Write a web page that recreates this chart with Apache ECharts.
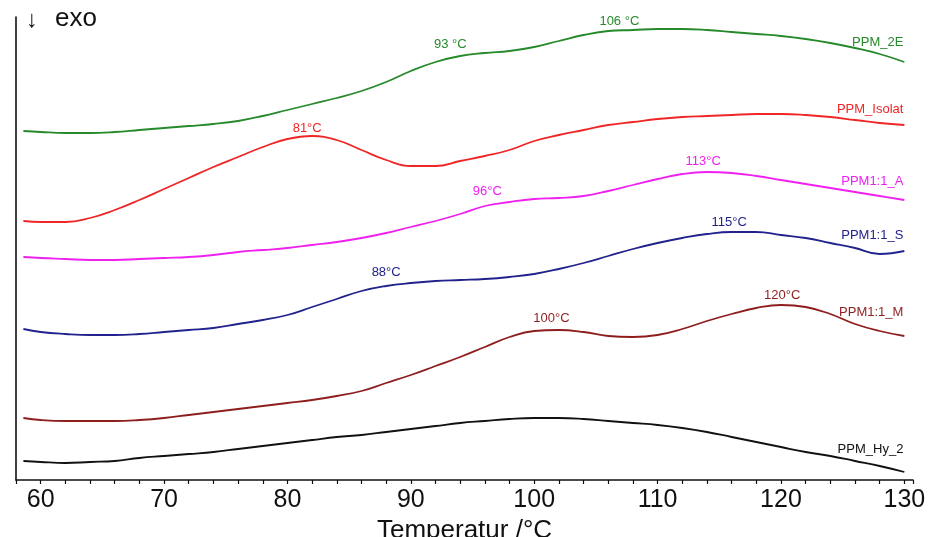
<!DOCTYPE html>
<html>
<head>
<meta charset="utf-8">
<script src="https://cdn.jsdelivr.net/npm/echarts@6/dist/echarts.min.js"></script>
<style>
  html, body { margin: 0; padding: 0; background: #fff; }
  #chart { width: 934px; height: 537px; }
</style>
</head>
<body>
<div id="chart"></div>
<script>
// DSC heating curves, heat flow in arbitrary units (curves offset vertically)
const temperature = [58.6, 60, 62, 64, 66, 68, 70, 72, 74, 76, 78, 80, 82, 84, 86, 88, 90, 92, 94,
  96, 98, 100, 102, 104, 106, 108, 110, 112, 114, 116, 118, 120, 122, 124, 126, 128, 130];

const ppm2E = [34.9, 34.8, 34.7, 34.7, 34.8, 35.0, 35.2, 35.4, 35.6, 35.9, 36.4, 37.0, 37.6, 38.2, 38.9, 39.8, 40.9, 41.8, 42.4,
  42.7, 42.9, 43.3, 43.9, 44.5, 44.9, 45.0, 45.1, 45.1, 45.0, 44.8, 44.6, 44.4, 44.1, 43.7, 43.2, 42.6, 41.8];
const ppmIsolat = [25.9, 25.8, 25.8, 26.2, 27.0, 28.0, 29.1, 30.2, 31.3, 32.3, 33.3, 34.1, 34.4, 34.0, 33.0, 32.0, 31.4, 31.4, 31.9,
  32.4, 33.0, 33.9, 34.5, 35.0, 35.5, 35.8, 36.1, 36.3, 36.4, 36.5, 36.6, 36.6, 36.5, 36.3, 36.0, 35.7, 35.5];
const ppm11A = [22.3, 22.2, 22.1, 22.0, 22.0, 22.1, 22.2, 22.3, 22.5, 22.8, 23.0, 23.2, 23.5, 23.8, 24.2, 24.7, 25.3, 25.9, 26.6,
  27.4, 27.8, 28.1, 28.2, 28.4, 28.9, 29.5, 30.1, 30.6, 30.8, 30.7, 30.4, 30.0, 29.6, 29.2, 28.8, 28.4, 28.0];
const ppm11S = [15.1, 14.8, 14.6, 14.5, 14.5, 14.6, 14.8, 15.0, 15.2, 15.6, 16.0, 16.5, 17.3, 18.1, 18.9, 19.4, 19.7, 19.9, 20.0,
  20.1, 20.3, 20.6, 21.1, 21.7, 22.4, 23.1, 23.7, 24.2, 24.6, 24.8, 24.8, 24.5, 24.2, 23.7, 23.2, 22.6, 22.9];
const ppm11M = [6.2, 6.0, 5.9, 5.9, 5.9, 6.0, 6.2, 6.5, 6.8, 7.1, 7.4, 7.7, 8.0, 8.4, 8.9, 9.7, 10.5, 11.4, 12.3,
  13.3, 14.3, 14.9, 15.0, 14.8, 14.4, 14.3, 14.5, 15.1, 15.9, 16.6, 17.2, 17.5, 17.3, 16.6, 15.6, 14.9, 14.4];
const ppmHy2 = [1.9, 1.8, 1.7, 1.8, 1.9, 2.2, 2.4, 2.6, 2.8, 3.1, 3.4, 3.7, 4.0, 4.3, 4.5, 4.8, 5.1, 5.4, 5.7,
  5.9, 6.1, 6.2, 6.2, 6.1, 5.9, 5.7, 5.5, 5.2, 4.8, 4.3, 3.8, 3.3, 2.8, 2.4, 1.9, 1.4, 0.8];

const xTicks = [60, 70, 80, 90, 100, 110, 120, 130];

// peak annotations: [label text, temperature where the label sits]
const peaks2E = [['93 °C', 93.2], ['106 °C', 106.9]];
const peaksIsolat = [['81°C', 81.6]];
const peaks11A = [['96°C', 96.2], ['113°C', 113.7]];
const peaks11S = [['88°C', 88.0], ['115°C', 115.8]];
const peaks11M = [['100°C', 101.4], ['120°C', 120.1]];
const peaksHy2 = [];

const curves = [
  { name: 'PPM_2E',     values: ppm2E,     peaks: peaks2E,     color: '#26892a', lifts: [7, 3], endLift: 20 },
  { name: 'PPM_Isolat', values: ppmIsolat, peaks: peaksIsolat, color: '#f02525', lifts: [2],    endLift: 16 },
  { name: 'PPM1:1_A',   values: ppm11A,    peaks: peaks11A,    color: '#f020f0', lifts: [8, 4], endLift: 19 },
  { name: 'PPM1:1_S',   values: ppm11S,    peaks: peaks11S,    color: '#22228c', lifts: [7, 3], endLift: 16 },
  { name: 'PPM1:1_M',   values: ppm11M,    peaks: peaks11M,    color: '#8e1e1e', lifts: [5, 3], endLift: 24 },
  { name: 'PPM_Hy_2',   values: ppmHy2,    peaks: peaksHy2,    color: '#111111', lifts: [],     endLift: 23 }
];

// linear interpolation of a curve at temperature t
function valueAt(values, t) {
  for (let i = 0; i < temperature.length - 1; i++) {
    const a = temperature[i], b = temperature[i + 1];
    if (t >= a && t <= b) {
      const f = (t - a) / (b - a);
      return values[i] + f * (values[i + 1] - values[i]);
    }
  }
  return values[values.length - 1];
}

const FONT = 'Liberation Sans, Arial, sans-serif';

const series = curves.map(c => {
  const marks = c.peaks.map((p, i) => ({
    coord: [p[1], valueAt(c.values, p[1])],
    label: { formatter: p[0], position: 'top', distance: c.lifts[i] }
  }));
  const last = temperature.length - 1;
  marks.push({
    coord: [temperature[last], c.values[last]],
    label: { formatter: c.name, position: 'inside', align: 'right', offset: [-1, -c.endLift] }
  });
  return {
    name: c.name,
    type: 'line',
    data: temperature.map((t, i) => [t, c.values[i]]),
    smooth: 0.45,
    showSymbol: false,
    lineStyle: { color: c.color, width: 1.8 },
    itemStyle: { color: c.color },
    silent: true,
    markPoint: {
      symbol: 'circle',
      symbolSize: 0,
      silent: true,
      label: { show: true, color: c.color, fontSize: 13, fontFamily: FONT },
      data: marks
    }
  };
});

const chart = echarts.init(document.getElementById('chart'), null, { renderer: 'canvas' });
chart.setOption({
  animation: false,
  backgroundColor: '#fff',
  grid: { left: 16, right: 21, top: 17, bottom: 57, containLabel: false, outerBoundsMode: 'none' },
  xAxis: {
    type: 'value',
    min: 58,
    max: 130.7,
    interval: 2,
    name: 'Temperatur /°C',
    nameLocation: 'middle',
    nameGap: 29,
    nameTextStyle: { color: '#111', fontSize: 26, fontFamily: FONT },
    axisLine: { show: true, onZero: false, lineStyle: { color: '#111', width: 1.6 } },
    axisTick: { show: true, length: 4, lineStyle: { color: '#111', width: 1.2 } },
    axisLabel: {
      color: '#111', fontSize: 25, fontFamily: FONT, margin: 8,
      formatter: v => (xTicks.indexOf(Math.round(v * 1000) / 1000) >= 0 ? String(v) : '')
    },
    splitLine: { show: false }
  },
  yAxis: {
    type: 'value',
    min: 0,
    max: 46.3,
    axisLine: { show: true, lineStyle: { color: '#111', width: 1.6 } },
    axisTick: { show: false },
    axisLabel: { show: false },
    splitLine: { show: false }
  },
  graphic: [
    { type: 'text', left: 26, top: 8, style: { text: '↓', fontSize: 24, fontFamily: FONT, fill: '#111' } },
    { type: 'text', left: 55, top: 6, style: { text: 'exo', fontSize: 26, fontFamily: FONT, fill: '#111' } }
  ],
  series: series
});
</script>
</body>
</html>
